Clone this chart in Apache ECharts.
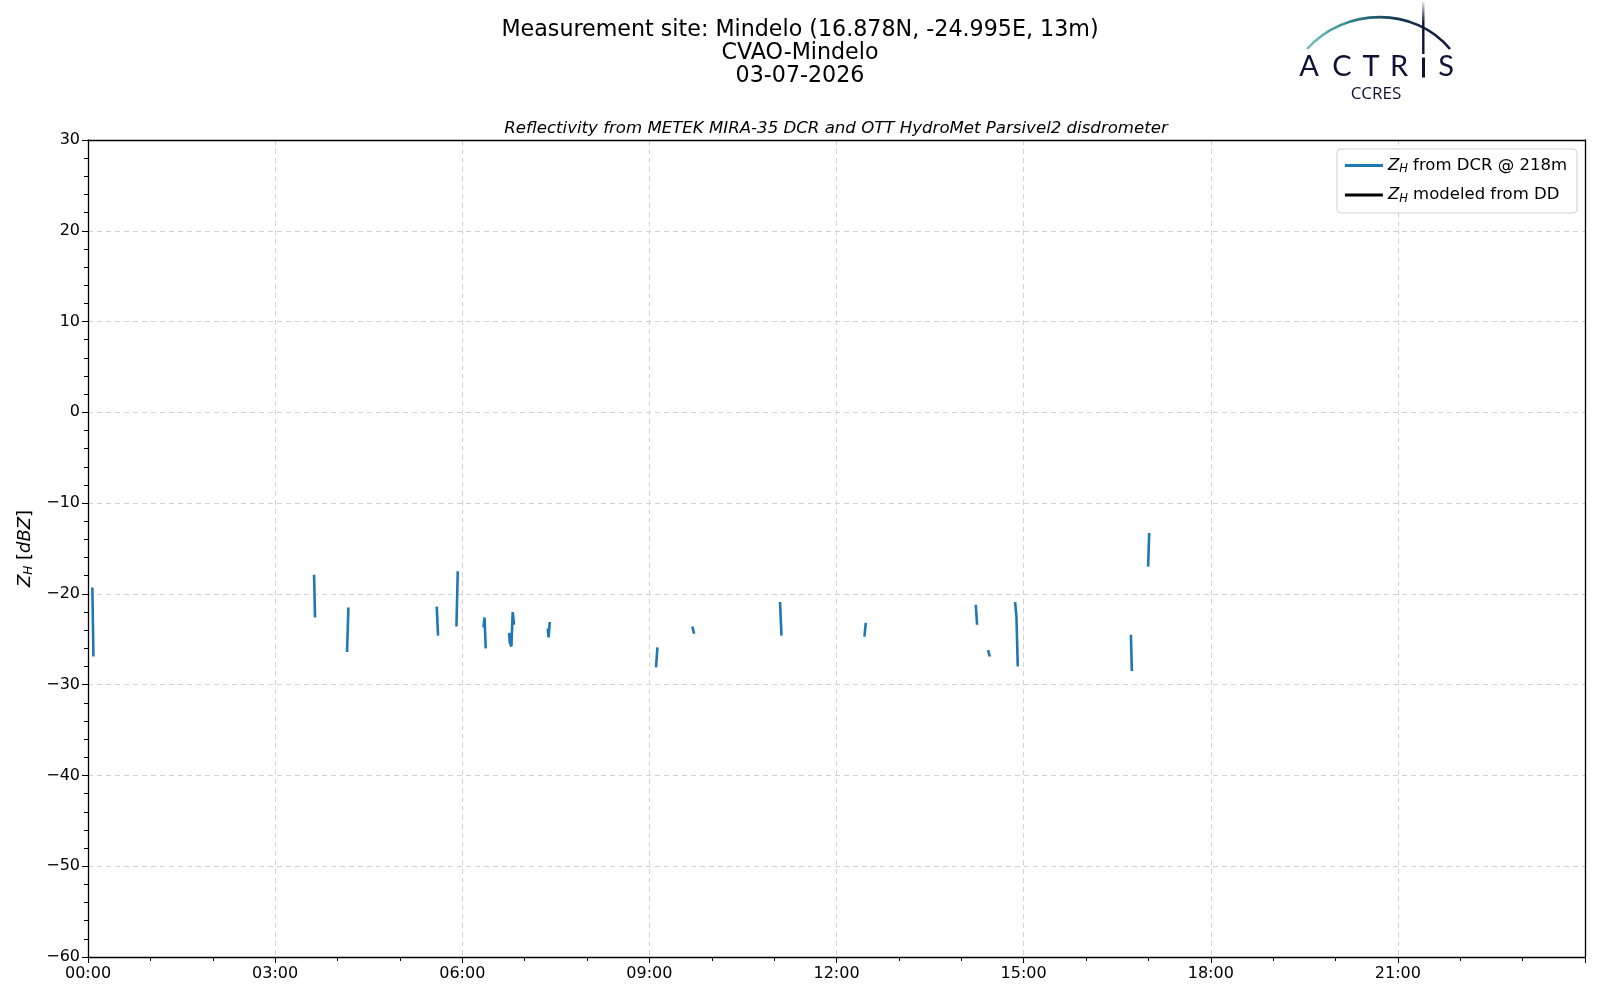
<html><head>
<meta charset="utf-8">
<title>Reflectivity Mindelo</title>
<script src="https://cdn.jsdelivr.net/npm/echarts@6/dist/echarts.min.js"></script>
<style>
  html, body { margin: 0; padding: 0; background: #fff; }
  #main { width: 1600px; height: 1000px; }
</style>
</head>
<body>
<div id="main"></div>
<script type="text/javascript">
// Z_H from DCR @ 218m, hour of day and dBZ (null = gap between segments)
var dcrHour = [0.070, 0.087, null,
               3.624, 3.640, null,
               4.153, 4.175, null,
               5.591, 5.612, null,
               5.907, 5.928, null,
               6.340, 6.357, 6.377, null,
               6.752, 6.760, 6.788, 6.809, 6.830, null,
               7.370, 7.385, 7.403, null,
               9.107, 9.129, null,
               9.690, 9.716, null,
               11.095, 11.118, null,
               12.448, 12.469, null,
               14.233, 14.254, null,
               14.430, 14.457, null,
               14.863, 14.885, 14.906, null,
               16.720, 16.735, null,
               16.996, 17.013];
var dcrZh = [-19.3, -26.9, null,
             -17.9, -22.6, null,
             -26.4, -21.5, null,
             -21.4, -24.6, null,
             -23.6, -17.5, null,
             -23.7, -22.6, -26.0, null,
             -24.3, -25.3, -25.8, -22.0, -23.4, null,
             -23.8, -24.8, -23.1, null,
             -28.1, -25.9, null,
             -23.6, -24.4, null,
             -20.9, -24.6, null,
             -24.7, -23.2, null,
             -21.2, -23.4, null,
             -26.2, -26.9, null,
             -20.9, -22.5, -28.0, null,
             -24.5, -28.5, null,
             -17.0, -13.3];
// Z_H modeled from disdrometer: no data this day
var ddHour = [];
var ddZh = [];

var titleLines = ['Measurement site: Mindelo (16.878N, -24.995E, 13m)', 'CVAO-Mindelo', '03-07-2026'];
var subTitle = 'Reflectivity from METEK MIRA-35 DCR and OTT HydroMet Parsivel2 disdrometer';

function pairs(hs, zs) {
    var out = [];
    var last = 0;
    for (var i = 0; i < zs.length; i++) {
        if (zs[i] === null) { out.push([last, '-']); }
        else { last = hs[i]; out.push([hs[i], zs[i]]); }
    }
    return out;
}
function pad(n) { return (n < 10 ? '0' : '') + n; }

var myChart = echarts.init(document.getElementById('main'));
var font = 'DejaVu Sans';
var navy = '#0e1236';
var frameAxis = {
    axisLine: { show: true, onZero: false, lineStyle: { color: '#000', width: 1.3 } },
    axisTick: { show: false }, axisLabel: { show: false }, splitLine: { show: false }
};

var option = {
    backgroundColor: '#fff',
    animation: false,
    textStyle: { fontFamily: font },
    title: [{
        text: titleLines.join('\n'),
        left: 795, top: 14, textAlign: 'center',
        textStyle: { fontFamily: font, fontSize: 22.2, fontWeight: 'normal', color: '#000', lineHeight: 23 }
    }, {
        text: subTitle,
        left: 831, top: 115, textAlign: 'center',
        textStyle: { fontFamily: font, fontSize: 16.6, fontStyle: 'italic', fontWeight: 'normal', color: '#000' }
    }],
    legend: {
        right: 23, top: 149,
        orient: 'vertical',
        backgroundColor: 'rgba(255,255,255,0.8)',
        borderColor: '#d0d0d0', borderWidth: 1, borderRadius: 4,
        padding: [8, 10, 8, 8],
        itemGap: 11, itemWidth: 38, itemHeight: 3,
        data: [
            { name: 'dcr', icon: 'rect', itemStyle: { color: '#1f77b4' } },
            { name: 'dd', icon: 'rect', itemStyle: { color: '#000' } }
        ],
        formatter: function (n) {
            return n === 'dcr' ? '{i|Z}{s|H}{t| from DCR @ 218m}' : '{i|Z}{s|H}{t| modeled from DD}';
        },
        textStyle: {
            color: '#000',
            rich: {
                i: { fontFamily: font, fontStyle: 'italic', fontSize: 16.5, color: '#000' },
                s: { fontFamily: font, fontStyle: 'italic', fontSize: 11.5, color: '#000', verticalAlign: 'bottom', padding: [8, 0, 0, 0] },
                t: { fontFamily: font, fontSize: 16.5, color: '#000' }
            }
        }
    },
    grid: { left: 88, right: 15, top: 140, bottom: 43 },
    xAxis: [{
        type: 'value', min: 0, max: 24, interval: 3,
        axisLine: { onZero: false, lineStyle: { color: '#000', width: 1.3 } },
        axisTick: { length: 6, lineStyle: { color: '#000' } },
        minorTick: { show: true, splitNumber: 3, length: 4, lineStyle: { color: '#000' } },
        axisLabel: {
            color: '#000', fontSize: 16, margin: 9, fontFamily: font,
            formatter: function (v) { return v >= 24 ? '' : pad(v) + ':00'; }
        },
        splitLine: { show: true, lineStyle: { color: '#d3d3d3', type: [5, 4], width: 1 } }
    }, Object.assign({ type: 'value', min: 0, max: 24, position: 'top' }, frameAxis)],
    yAxis: [{
        type: 'value', min: -60, max: 30, interval: 10,
        name: '{i|Z}{s|H}{t| [}{i|dBZ}{t|]}',
        nameLocation: 'middle', nameGap: 52, nameRotate: 90,
        nameTextStyle: {
            rich: {
                i: { fontFamily: font, fontStyle: 'italic', fontSize: 18, color: '#000' },
                s: { fontFamily: font, fontStyle: 'italic', fontSize: 12, color: '#000', verticalAlign: 'bottom', padding: [9, 0, 0, 0] },
                t: { fontFamily: font, fontSize: 18, color: '#000' }
            }
        },
        axisLine: { show: true, onZero: false, lineStyle: { color: '#000', width: 1.3 } },
        axisTick: { show: true, length: 6, lineStyle: { color: '#000' } },
        minorTick: { show: true, splitNumber: 5, length: 4, lineStyle: { color: '#000' } },
        axisLabel: {
            color: '#000', fontSize: 16, margin: 8, fontFamily: font,
            formatter: function (v) { return String(v).replace('-', '\u2212'); }
        },
        splitLine: { show: true, lineStyle: { color: '#d3d3d3', type: [5, 4], width: 1 } }
    }, Object.assign({ type: 'value', min: -60, max: 30, position: 'right' }, frameAxis)],
    series: [{
        name: 'dcr', type: 'line', data: pairs(dcrHour, dcrZh),
        symbol: 'none', connectNulls: false,
        lineStyle: { color: '#1f77b4', width: 2.6 }, itemStyle: { color: '#1f77b4' }
    }, {
        name: 'dd', type: 'line', data: pairs(ddHour, ddZh),
        symbol: 'none',
        lineStyle: { color: '#000', width: 2.6 }, itemStyle: { color: '#000' }
    }],
    graphic: [
        // ACTRIS logo arc
        { type: 'bezierCurve', shape: { x1: 1307, y1: 49, x2: 1450, y2: 49, cpx1: 1345, cpy1: 6.5, cpx2: 1415, cpy2: 6.5 },
          style: { fill: null, lineWidth: 2.6,
                   stroke: new echarts.graphic.LinearGradient(0, 0, 1, 0, [
                       { offset: 0, color: '#7cc4bf' }, { offset: 0.3, color: '#2f8a8f' },
                       { offset: 0.6, color: '#173a55' }, { offset: 1, color: navy }]) } },
        { type: 'line', shape: { x1: 1423.3, y1: 2, x2: 1423.3, y2: 54 },
          style: { lineWidth: 2.4,
                   stroke: new echarts.graphic.LinearGradient(0, 0, 0, 1, [
                       { offset: 0, color: 'rgba(14,18,54,0)' }, { offset: 0.4, color: navy }, { offset: 1, color: navy }]) } },
        { type: 'text', x: 1309, y: 52, style: { text: 'A', fill: navy, font: '29px Lato', align: 'center' } },
        { type: 'text', x: 1342, y: 52, style: { text: 'C', fill: navy, font: '29px Lato', align: 'center' } },
        { type: 'text', x: 1371, y: 52, style: { text: 'T', fill: navy, font: '29px Lato', align: 'center' } },
        { type: 'text', x: 1399, y: 52, style: { text: 'R', fill: navy, font: '29px Lato', align: 'center' } },
        { type: 'rect', shape: { x: 1422, y: 57.5, width: 3, height: 20 }, style: { fill: navy } },
        { type: 'text', x: 1446, y: 52, style: { text: 'S', fill: navy, font: '29px Lato', align: 'center' } },
        { type: 'text', x: 1376, y: 86, style: { text: 'CCRES', fill: navy, font: '17px "Open Sans"', align: 'center' } }
    ]
};
myChart.setOption(option);
</script>
</body>
</html>
